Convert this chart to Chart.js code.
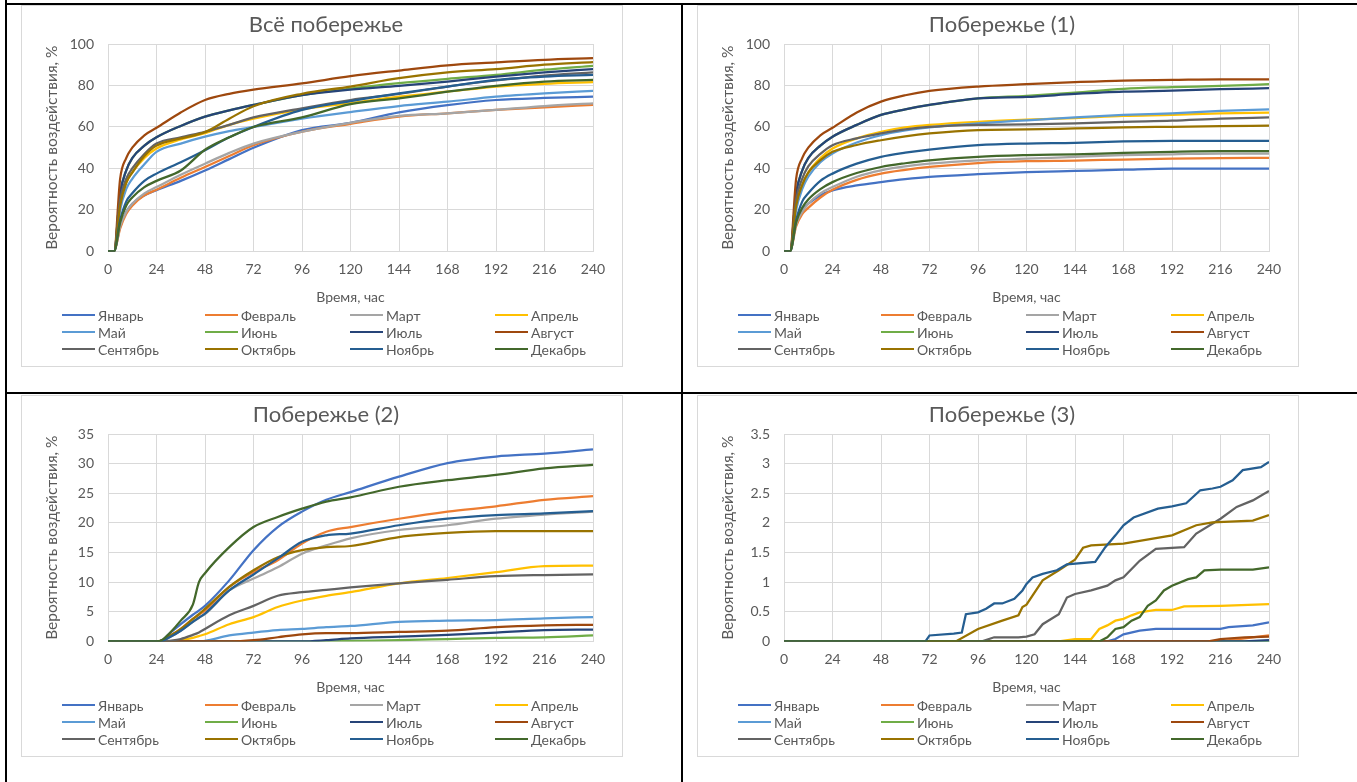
<!DOCTYPE html>
<html lang="ru">
<head>
<meta charset="utf-8">
<title>Вероятность воздействия по месяцам</title>
<script src="https://cdn.jsdelivr.net/npm/chart.js@4.4.1/dist/chart.umd.min.js"></script>
<style>
  body { margin: 0; background: #fff; font-family: Lato, "Liberation Sans", sans-serif; }
  .page { position: relative; width: 1357px; height: 782px; overflow: hidden; }
  .rule { position: absolute; background: #000; }
  .box { position: absolute; width: 602px; height: 362px; border: 1px solid #d9d9d9; box-sizing: border-box; }
  .box canvas { position: absolute; left: 0; top: 0; }
  .ttl { position: absolute; left: 0; top: 5px; width: 608px; text-align: center; font-size: 22px; line-height: 26.4px; color: #595959; white-space: nowrap; }
  .leg { position: absolute; height: 17px; display: flex; align-items: center; font-size: 14px; color: #595959; white-space: nowrap; }
  .leg i { display: inline-block; width: 33px; height: 2.5px; margin-right: 3px; }
</style>
</head>
<body>
<div class="page">
  <div class="rule" style="left:5px;top:0;width:2px;height:782px"></div>
  <div class="rule" style="left:5px;top:3px;width:1352px;height:2px"></div>
  <div class="rule" style="left:681px;top:3px;width:2px;height:779px"></div>
  <div class="rule" style="left:5px;top:392px;width:1352px;height:2px"></div>

  <div class="box" id="box1" style="left:21px;top:5px"><canvas id="c1" width="600" height="360"></canvas></div>
  <div class="box" id="box2" style="left:697px;top:5px"><canvas id="c2" width="600" height="360"></canvas></div>
  <div class="box" id="box3" style="left:21px;top:395px"><canvas id="c3" width="600" height="360"></canvas></div>
  <div class="box" id="box4" style="left:697px;top:395px"><canvas id="c4" width="600" height="360"></canvas></div>
</div>

<script>
// ===== общие данные =====
const months = ["Январь", "Февраль", "Март", "Апрель", "Май", "Июнь",
                "Июль", "Август", "Сентябрь", "Октябрь", "Ноябрь", "Декабрь"];
const colors = ["#4472C4", "#ED7D31", "#A5A5A5", "#FFC000", "#5B9BD5", "#70AD47",
                "#264478", "#9E480E", "#636363", "#997300", "#255E91", "#43682B"];

// ===== Всё побережье =====
const hoursAll = [0, 3, 6, 9, 12, 18, 24, 36, 48, 60, 72, 96, 120, 144, 168, 192, 216, 240];
const valuesAll = [
  [0, 0, 12, 19, 23, 27, 29.5, 34, 39, 44.5, 50, 58.5, 62, 67, 70.5, 73, 74, 74.6],
  [0, 0, 11, 18, 22, 27, 29.7, 35.5, 40.7, 46, 51.2, 57.7, 61.5, 65, 66.6, 68.2, 69.5, 70.6],
  [0, 0, 12, 19, 23, 28, 31, 37, 42.3, 47.5, 52, 57.7, 62, 65.3, 66.6, 68.2, 70.1, 71.4],
  [0, 0, 22, 33, 38, 45, 49.6, 54, 57, 61, 64, 68.5, 71.5, 74.6, 77, 79.5, 80.8, 81.6],
  [0, 0, 20, 30, 35, 42, 48, 52, 55.3, 58, 60, 64, 67.2, 70.1, 72.2, 74.6, 76.2, 77.4],
  [0, 0, 28, 39, 45, 51, 55, 60.5, 65, 68, 70.6, 75.3, 78.5, 81.1, 83.2, 85.1, 87.6, 89.5],
  [0, 0, 28, 39, 45, 51, 55, 60.5, 65, 68, 70.6, 75.3, 78, 79.8, 81.9, 84.3, 86.3, 87.9],
  [0, 0, 35, 45, 50, 56, 59.6, 67, 73, 76, 78, 81, 84.5, 87.2, 89.7, 91.1, 92.4, 93.2],
  [0, 0, 25, 35, 40, 47, 52, 55, 57.7, 61, 64.6, 69, 73, 75.9, 79.5, 82.4, 84.8, 86.3],
  [0, 0, 22, 33, 38, 46, 51, 54.5, 57.5, 64, 70, 76, 79.5, 83.5, 86.3, 87.9, 90, 91.3],
  [0, 0, 15, 24, 28, 34, 37.5, 43, 48.8, 55, 60, 68.2, 72.5, 76.2, 79.5, 82.7, 84.3, 85.1],
  [0, 0, 14, 22, 26, 31, 34, 39, 49, 55, 60, 64.6, 71, 73.8, 77, 79.8, 81.9, 82.7]
];

// ===== Побережье (1) =====
const hours1 = [0, 3, 6, 9, 12, 18, 24, 36, 48, 60, 72, 96, 120, 144, 168, 192, 216, 240];
const values1 = [
  [0, 0, 14, 20, 23, 27, 29.4, 31.8, 33.4, 34.8, 35.9, 37.2, 38.2, 38.8, 39.4, 39.9, 39.9, 39.9],
  [0, 0, 12, 18, 21, 26, 29.7, 34.5, 37.5, 39.3, 40.7, 42.6, 43.5, 43.8, 44.3, 44.7, 45, 45.1],
  [0, 0, 13, 19, 23, 28, 31, 36, 39.1, 41, 42.3, 43.9, 44.7, 45.6, 46.4, 46.8, 47.2, 47.2],
  [0, 0, 22, 32, 38, 45, 49.6, 54.5, 57.7, 59.8, 61, 62.5, 63.5, 64.3, 65.3, 65.8, 66.5, 66.9],
  [0, 0, 20, 30, 36, 43, 47.2, 52.5, 56, 58.3, 59.8, 61.7, 63.2, 64.6, 65.8, 66.6, 67.7, 68.5],
  [0, 0, 28, 39, 45, 51, 55.3, 61, 65.8, 68.5, 70.6, 73.8, 75, 76.6, 78.4, 79.2, 79.8, 80.6],
  [0, 0, 28, 39, 45, 51, 55.3, 61, 65.8, 68.5, 70.6, 73.8, 74.5, 75.9, 77, 77.5, 78.2, 78.7],
  [0, 0, 35, 45, 50, 56, 59.6, 67, 72.2, 75.3, 77.4, 79.5, 80.6, 81.6, 82.4, 82.7, 83, 83],
  [0, 0, 25, 35, 41, 47, 51.2, 54.5, 56.9, 58.8, 60, 61, 61.2, 61.7, 62.5, 63, 64, 64.6],
  [0, 0, 22, 32, 38, 44, 48, 51.3, 53.6, 55.5, 56.9, 58.5, 58.8, 59.3, 59.8, 60.1, 60.4, 60.6],
  [0, 0, 15, 24, 28, 34, 37.5, 42.3, 45.6, 47.6, 49.1, 51.2, 52, 52.3, 53, 53.3, 53.3, 53.3],
  [0, 0, 14, 21, 25, 30, 33.4, 37.8, 40.7, 42.5, 43.9, 45.6, 46.4, 46.8, 47.5, 48, 48.3, 48.3]
];

// ===== Побережье (2) =====
const hours2 = [0, 24, 27, 30, 36, 42, 45, 48, 60, 72, 84, 96, 108, 120, 144, 168, 192, 216, 240];
const values2 = [
  [0, 0, 0.2, 1.2, 2.9, 4.5, 5.2, 6, 10.3, 15.4, 19.3, 21.9, 23.9, 25.2, 27.8, 30.1, 31.2, 31.7, 32.4],
  [0, 0, 0.2, 0.8, 2.1, 3.8, 4.5, 5.2, 9.2, 11.7, 13.7, 16.5, 18.5, 19.3, 20.7, 21.9, 22.8, 23.9, 24.5],
  [0, 0, 0.1, 0.6, 1.8, 3.3, 4, 4.6, 8.6, 10.6, 12.5, 14.8, 16.2, 17.4, 18.8, 19.6, 20.7, 21.4, 21.9],
  [0, 0, 0, 0, 0.2, 0.6, 0.9, 1.2, 2.9, 4.1, 5.8, 6.9, 7.7, 8.3, 9.8, 10.7, 11.7, 12.7, 12.8],
  [0, 0, 0, 0, 0, 0, 0, 0.1, 1, 1.5, 1.9, 2.1, 2.4, 2.6, 3.3, 3.5, 3.6, 3.9, 4.1],
  [0, 0, 0, 0, 0, 0, 0, 0, 0, 0, 0, 0, 0, 0.1, 0.2, 0.4, 0.6, 0.7, 1.0],
  [0, 0, 0, 0, 0, 0, 0, 0, 0, 0, 0, 0, 0.2, 0.5, 0.8, 1.1, 1.5, 1.9, 2.0],
  [0, 0, 0, 0, 0, 0, 0, 0, 0, 0.2, 0.7, 1.2, 1.4, 1.4, 1.6, 1.8, 2.4, 2.7, 2.8],
  [0, 0, 0, 0.1, 0.4, 1.1, 1.5, 2.1, 4.4, 6, 7.7, 8.3, 8.7, 9.1, 9.8, 10.4, 11, 11.2, 11.3],
  [0, 0, 0.2, 0.8, 2.1, 3.8, 4.6, 5.5, 9.2, 12, 14.2, 15.4, 15.9, 16.1, 17.6, 18.3, 18.6, 18.6, 18.6],
  [0, 0, 0.1, 0.6, 1.8, 3.3, 4, 4.7, 8.6, 11.3, 14, 16.8, 17.9, 18.2, 19.6, 20.7, 21.3, 21.6, 22],
  [0, 0, 0.3, 1.2, 3.5, 6.2, 10, 11.5, 15.9, 19.3, 21, 22.4, 23.6, 24.3, 26.1, 27.2, 28.1, 29.2, 29.8]
];

// ===== Побережье (3): у каждого месяца свои часы =====
const hours3 = [
  [0, 160, 164, 168, 176, 184, 216, 220, 232, 240],
  [0, 216, 228, 240],
  [0, 240],
  [0, 136, 144, 152, 156, 160, 164, 168, 172, 176, 184, 192, 198, 216, 240],
  [0, 240],
  [0, 240],
  [0, 228, 240],
  [0, 210, 216, 228, 240],
  [0, 98, 104, 116, 120, 124, 128, 136, 140, 144, 152, 160, 164, 168, 176, 184, 192, 198, 204, 216, 224, 232, 240],
  [0, 85, 96, 108, 116, 118, 120, 128, 136, 144, 148, 152, 168, 192, 204, 212, 232, 240],
  [0, 70, 72, 84, 88, 90, 96, 100, 104, 108, 114, 118, 120, 123, 128, 135, 140, 154, 159, 164, 168, 173, 185, 192, 199, 206, 212, 216, 222, 227, 236, 240],
  [0, 156, 160, 164, 168, 172, 176, 180, 184, 188, 192, 200, 204, 208, 216, 232, 240]
];
const values3 = [
  [0, 0, 0.04, 0.12, 0.18, 0.21, 0.21, 0.24, 0.27, 0.32],
  [0, 0, 0.05, 0.1],
  [0, 0],
  [0, 0, 0.04, 0.04, 0.21, 0.27, 0.35, 0.38, 0.44, 0.49, 0.53, 0.53, 0.59, 0.6, 0.63],
  [0, 0],
  [0, 0],
  [0, 0, 0.02],
  [0, 0, 0.04, 0.07, 0.08],
  [0, 0, 0.07, 0.07, 0.08, 0.12, 0.29, 0.46, 0.74, 0.8, 0.86, 0.94, 1.03, 1.08, 1.36, 1.56, 1.58, 1.59, 1.82, 2.07, 2.27, 2.38, 2.54],
  [0, 0, 0.21, 0.35, 0.44, 0.58, 0.62, 1.03, 1.2, 1.38, 1.58, 1.62, 1.65, 1.79, 1.96, 2.01, 2.04, 2.13],
  [0, 0, 0.1, 0.13, 0.15, 0.46, 0.49, 0.55, 0.64, 0.64, 0.72, 0.86, 0.97, 1.08, 1.14, 1.2, 1.3, 1.34, 1.59, 1.79, 1.96, 2.09, 2.24, 2.28, 2.33, 2.55, 2.58, 2.61, 2.72, 2.89, 2.94, 3.03],
  [0, 0, 0.07, 0.21, 0.24, 0.35, 0.41, 0.6, 0.69, 0.86, 0.94, 1.05, 1.08, 1.2, 1.21, 1.21, 1.25]
];

const FONT = "Lato, 'Liberation Sans', sans-serif";
const TEXT = "#595959";
const GRID = "#d9d9d9";

// ===== наборы данных =====
function buildDatasets(hours, values, smooth) {
  return values.map((vals, i) => {
    const hs = Array.isArray(hours[0]) ? hours[i] : hours;
    return {
      label: months[i],
      data: vals.map((v, j) => ({ x: hs[j], y: v })),
      borderColor: colors[i],
      backgroundColor: colors[i],
      borderWidth: 2.25,
      pointRadius: 0,
      fill: false,
      cubicInterpolationMode: smooth ? "monotone" : "default",
      tension: 0,
      order: months.length - i   // как в Excel: последний ряд сверху
    };
  });
}

// ===== заголовок и легенда (4 колонки) =====
function addTitle(boxId, text) {
  const t = document.createElement("div");
  t.className = "ttl";
  t.textContent = text;
  document.getElementById(boxId).appendChild(t);
}

function addLegend(boxId) {
  const box = document.getElementById(boxId);
  const colX = [40, 183, 328, 473];
  const rowY = [309, 326, 343];
  months.forEach((m, i) => {
    const item = document.createElement("div");
    item.className = "leg";
    item.style.left = colX[i % 4] + "px";
    item.style.top = (rowY[Math.floor(i / 4)] - 8.5) + "px";
    item.innerHTML = `<i style="background:${colors[i]}"></i>${m}`;
    box.appendChild(item);
  });
}

function makeChart(canvasId, boxId, title, yMax, yStep, datasets) {
  new Chart(document.getElementById(canvasId), {
    type: "line",
    data: { datasets: datasets },
    options: {
      responsive: false,
      animation: false,
      layout: { padding: { top: 38, right: 29, bottom: 56, left: 0 } },
      plugins: {
        legend: { display: false },
        tooltip: { enabled: false },
        title: { display: false }
      },
      scales: {
        x: {
          type: "linear",
          min: 0,
          max: 240,
          grid: { color: GRID, drawTicks: false },
          border: { color: GRID },
          ticks: {
            stepSize: 24,
            autoSkip: false,
            maxRotation: 0,
            padding: 10,
            color: TEXT,
            font: { family: FONT, size: 14 }
          },
          title: {
            display: true,
            text: "Время, час",
            color: TEXT,
            font: { family: FONT, size: 14 },
            padding: { top: 1, bottom: 4 }
          }
        },
        y: {
          min: 0,
          max: yMax,
          grid: { color: GRID, drawTicks: false },
          border: { color: GRID },
          ticks: {
            stepSize: yStep,
            padding: 14,
            color: TEXT,
            font: { family: FONT, size: 14 },
            callback: v => String(v)
          },
          title: {
            display: true,
            text: "Вероятность воздействия, %",
            color: TEXT,
            font: { family: FONT, size: 15.5 },
            padding: { top: 21, bottom: 0 }
          },
          afterFit(scale) { scale.width = 86; }
        }
      }
    }
  });
  addTitle(boxId, title);
  addLegend(boxId);
}

makeChart("c1", "box1", "Всё побережье", 100, 20, buildDatasets(hoursAll, valuesAll, true));
makeChart("c2", "box2", "Побережье (1)", 100, 20, buildDatasets(hours1, values1, true));
makeChart("c3", "box3", "Побережье (2)", 35, 5, buildDatasets(hours2, values2, true));
makeChart("c4", "box4", "Побережье (3)", 3.5, 0.5, buildDatasets(hours3, values3, false));
</script>
</body>
</html>
